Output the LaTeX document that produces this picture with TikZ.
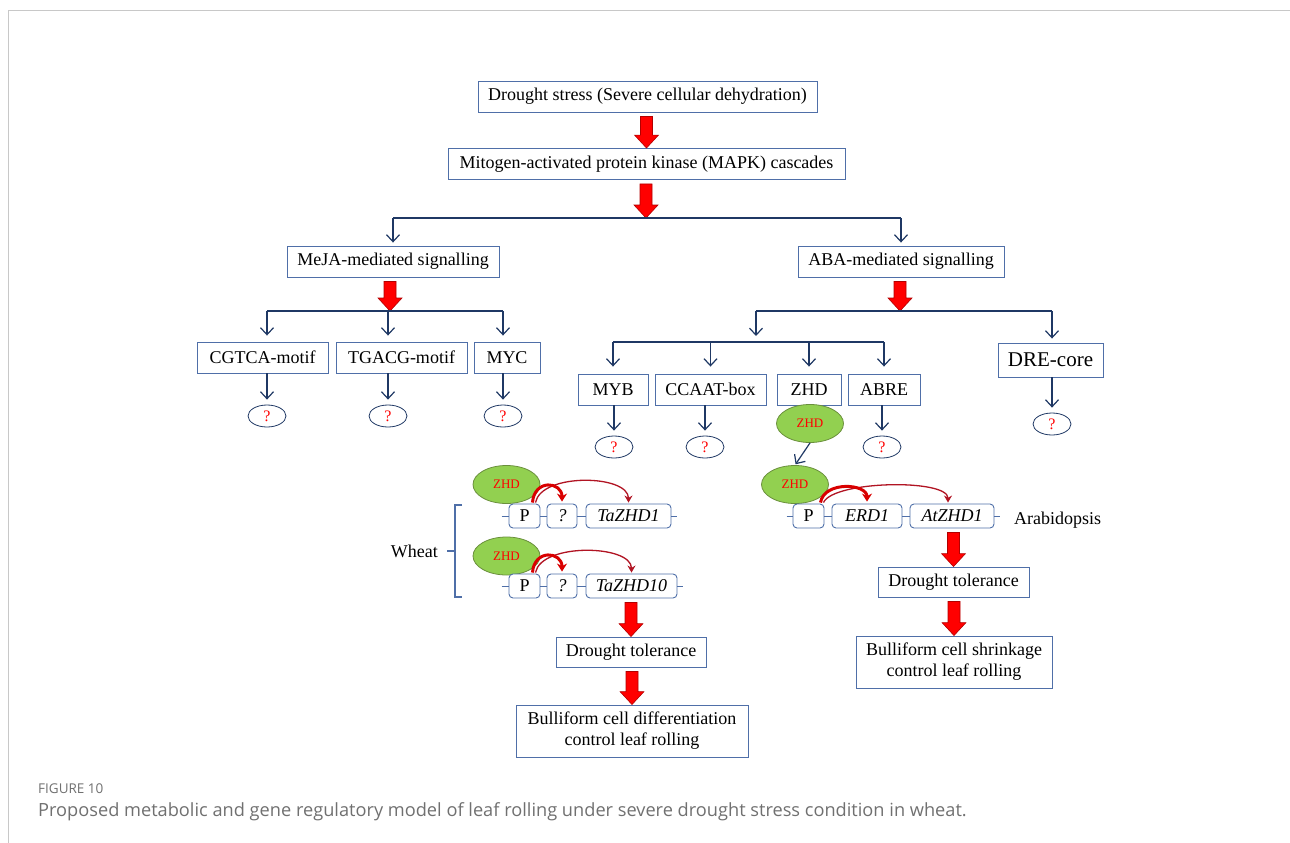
\documentclass[tikz,border=0pt]{standalone}
\usepackage{fontspec}
\setmainfont{Liberation Serif}
\newfontfamily\capfont{Open Sans}
\usetikzlibrary{arrows.meta,calc,shapes.geometric}

\definecolor{boxblue}{HTML}{4F6FA8}
\definecolor{navy}{HTML}{1F3864}
\definecolor{leaf}{HTML}{92D050}
\definecolor{leafdark}{HTML}{6A8F3C}
\definecolor{capgray}{HTML}{707070}
\definecolor{framegray}{HTML}{C8C8C8}

\tikzset{
  box/.style={draw=boxblue, line width=0.9pt, fill=white, minimum height=31pt,
    inner xsep=4pt, inner ysep=2pt, font=\fontsize{18}{21}\selectfont},
  gene/.style={box, rounded corners=4pt, minimum height=24pt},
  plain/.style={inner sep=0pt, font=\fontsize{18}{21}\selectfont},
  qmark/.style={ellipse, draw=navy, line width=0.8pt, minimum width=38pt, minimum height=22pt,
    inner sep=0pt, text=red, font=\fontsize{16}{16}\selectfont},
  prot/.style={ellipse, draw=leafdark, fill=leaf, line width=0.8pt, minimum width=67pt,
    minimum height=38pt, inner sep=0pt, text=red, font=\fontsize{13}{13}\selectfont},
  tree/.style={draw=navy, line width=1.2pt},
  navyarrow/.style={tree, -{Straight Barb[length=7pt,width=13pt]}},
  geneline/.style={draw=boxblue, line width=1pt},
  fat/.style={fill=red, draw=red!70!black, line width=0.6pt},
  shortpull/.style={draw=red!85!black, line width=3pt, -{Stealth[length=8pt,width=10pt]}},
  longpull/.style={draw=red!65!navy, line width=1.3pt, -{Stealth[length=7pt,width=8pt]}}
}

% thick red arrow, drawn straight down onto #2
\newcommand\fatarrow[2]{%
  \path #1 coordinate (fa-a) #2 coordinate (fa-b);
  \path (fa-a -| fa-b) coordinate (fa-a);
  \draw[fat] ($(fa-a)+(-6,4)$) -- ($(fa-b)+(-6,-13)$) -- ($(fa-b)+(-12,-13)$) -- (fa-b)
    -- ($(fa-b)+(12,-13)$) -- ($(fa-b)+(6,-13)$) -- ($(fa-a)+(6,4)$) -- cycle;}

\begin{document}
\begin{tikzpicture}[x=1pt, y=-1pt]
  \useasboundingbox (0,0) rectangle (1290,843);
  \draw[framegray, line width=0.8pt] (8,843) -- (8,10) -- (1290,10);

  \node[box, minimum width=339pt] (drought) at (647.5,96.5) {Drought stress (Severe cellular dehydration)};
  \node[box, minimum width=397pt] (mapk) at (646.5,164) {Mitogen-activated protein kinase (MAPK) cascades};
  \node[box, minimum width=212pt] (meja) at (393,261.5) {MeJA-mediated signalling};
  \node[box, minimum width=206pt] (aba) at (901,261.5) {ABA-mediated signalling};

  \node[box, minimum width=131pt] (cgtca) at (262.5,357.5) {CGTCA-motif};
  \node[box, minimum width=131pt] (tgacg) at (401.5,357.5) {TGACG-motif};
  \node[box, minimum width=66pt] (myc) at (507,357.5) {MYC};
  \node[box, minimum width=70pt] (myb) at (613,389.5) {MYB};
  \node[box, minimum width=111pt] (ccaat) at (710.5,389.5) {CCAAT-box};
  \node[box, minimum width=64pt] (zhdbox) at (809,389.5) {ZHD};
  \node[box, minimum width=72pt] (abre) at (884,389.5) {ABRE};
  \node[box, minimum width=105pt, minimum height=34pt, font=\fontsize{21}{24}\selectfont] (dre) at (1050.5,360) {DRE-core};

  \node[qmark] (q-cgtca) at (267,416) {?};
  \node[qmark] (q-tgacg) at (388,416) {?};
  \node[qmark] (q-myc) at (503,416) {?};
  \node[qmark] (q-myb) at (614,447) {?};
  \node[qmark] (q-ccaat) at (705,447) {?};
  \node[qmark] (q-abre) at (882,447) {?};
  \node[qmark] (q-dre) at (1052,424) {?};

  \coordinate (mapksplit) at (646,218);
  \coordinate (mejasplit) at (390,311);
  \coordinate (abasplit) at (900,311);
  \coordinate (abahub) at (756,336);
  \coordinate (abasplit2) at (756,342);

  \fatarrow{(drought.south)}{(mapk.north)}
  \fatarrow{(mapk.south)}{(mapksplit)}
  \fatarrow{(meja.south)}{(mejasplit)}
  \fatarrow{(aba.south)}{(abasplit)}

  \draw[tree] (meja.north |- mapksplit) -- (aba.north |- mapksplit);
  \draw[navyarrow, shorten >=3pt] (meja.north |- mapksplit) -- (meja.north);
  \draw[navyarrow, shorten >=3pt] (aba.north |- mapksplit) -- (aba.north);

  \draw[tree] (q-cgtca |- mejasplit) -- (q-myc |- mejasplit);
  \foreach \n in {cgtca,tgacg,myc}{
    \draw[navyarrow, shorten >=6pt] (q-\n |- mejasplit) -- (q-\n |- \n.north);
    \draw[navyarrow, shorten >=5pt] (q-\n |- \n.south) -- (q-\n.north);
  }

  \draw[tree] (abahub |- abasplit) -- (q-dre |- abasplit);
  \draw[navyarrow] (abahub |- abasplit) -- (abahub);
  \draw[navyarrow, shorten >=4pt] (q-dre |- abasplit) -- (q-dre |- dre.north);
  \draw[tree] (myb.north |- abasplit2) -- (abre.north |- abasplit2);
  \foreach \n in {myb,ccaat,zhdbox,abre}
    \draw[navyarrow, shorten >=7pt] (\n.north |- abasplit2) -- (\n.north);
  \foreach \n in {myb,ccaat,abre,dre}
    \draw[navyarrow, shorten >=5pt] (q-\n |- \n.south) -- (q-\n.north);

  % Arabidopsis
  \node[prot] (zhd-a) at (810,423.5) {ZHD};
  \node[prot] (zhd-b) at (795,484.5) {ZHD};
  \draw[navyarrow, shorten >=1pt] (zhd-a.south) -- (zhd-b.north);
  \node[gene, minimum width=31pt] (p-a) at (808.5,516) {P};
  \node[gene, minimum width=70pt] (erd) at (867,516) {\textit{ERD1}};
  \node[gene, minimum width=84pt] (g-a) at (952,516) {\textit{AtZHD1}};
  \draw[geneline] ($(p-a.west)+(-6,0)$) -- (p-a.west) (p-a.east) -- (erd.west)
    (erd.east) -- (g-a.west) (g-a.east) -- ++(6,0);
  \node[plain, anchor=west] (arab) at (1014,520) {Arabidopsis};
  \draw[longpull] ($(p-a.north east)+(-1,-1)$) .. controls +(10,-22) and +(0,-24) .. ($(g-a.north)+(-4,-1)$);
  \draw[shortpull] ($(p-a.north east)+(-4,-1)$) .. controls +(4,-22) and +(0,-18) .. ($(erd.north)+(0,-2)$);

  \node[box, minimum width=151pt, minimum height=30pt] (dt-a) at (953.5,582) {Drought tolerance};
  \node[box, minimum width=196pt, minimum height=52pt, align=center] (bul-a) at (954,662) {Bulliform cell shrinkage\\control leaf rolling};
  \fatarrow{(g-a.south)}{(dt-a.north)}
  \fatarrow{(dt-a.south)}{(bul-a.north)}

  % Wheat
  \node[prot] (zhd-w1) at (506.5,484.5) {ZHD};
  \node[prot] (zhd-w2) at (506.5,556) {ZHD};
  \node[gene, minimum width=31pt] (p-w1) at (524.5,516) {P};
  \node[gene, minimum width=30pt] (x-w1) at (562,516) {\textit{?}};
  \node[gene, minimum width=85pt] (g-w1) at (628.5,516) {\textit{TaZHD1}};
  \node[gene, minimum width=31pt] (p-w2) at (524.5,586) {P};
  \node[gene, minimum width=30pt] (x-w2) at (562,586) {\textit{?}};
  \node[gene, minimum width=91pt] (g-w2) at (631.5,586) {\textit{TaZHD10}};
  \foreach \r in {w1,w2}{
    \draw[geneline] ($(p-\r.west)+(-7,0)$) -- (p-\r.west) (p-\r.east) -- (x-\r.west)
      (x-\r.east) -- (g-\r.west) (g-\r.east) -- ++(6,0);
    \draw[longpull] ($(p-\r.north east)+(-5,-1)$) .. controls +(6,-30) and +(0,-28) .. ($(g-\r.north)+(0,-1)$);
    \draw[shortpull] ($(p-\r.north east)+(-8,-1)$) .. controls +(2,-24) and +(0,-20) .. ($(x-\r.north)+(0,-2)$);
  }
  \draw[boxblue, line width=1.1pt] (462,505) -- (455,505) -- (455,597) -- (462,597) (455,551) -- (447,551);
  \node[plain, anchor=east] (wheat) at (438,551) {Wheat};

  \node[box, minimum width=150pt, minimum height=30pt] (dt-w) at (631,652) {Drought tolerance};
  \node[box, minimum width=232pt, minimum height=52pt, align=center] (bul-w) at (632,731) {Bulliform cell differentiation\\control leaf rolling};
  \fatarrow{(g-w2.south)}{(dt-w.north)}
  \fatarrow{(dt-w.south)}{(bul-w.north)}

  \node[anchor=west, inner sep=0pt, text=capgray, font=\capfont\fontsize{13.5}{13.5}\selectfont] (figno) at (38,789) {FIGURE 10};
  \node[anchor=west, inner sep=0pt, text=capgray, font=\capfont\fontsize{18.2}{18.2}\selectfont] (caption) at (38,812) {Proposed metabolic and gene regulatory model of leaf rolling under severe drought stress condition in wheat.};
\end{tikzpicture}
\end{document}
